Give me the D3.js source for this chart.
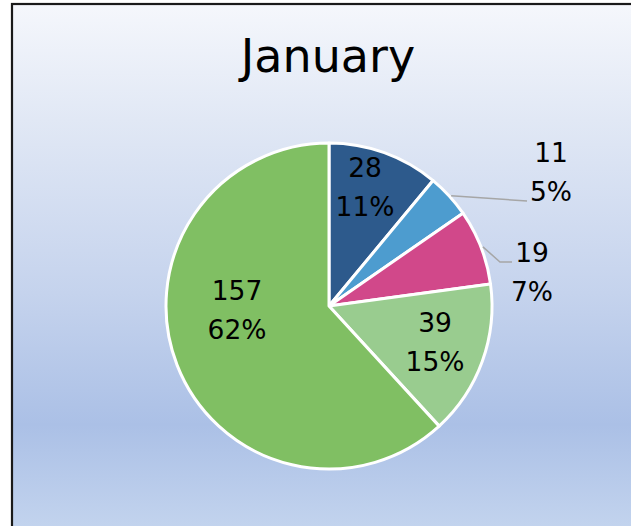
<!DOCTYPE html>
<html><head><meta charset="utf-8">
<script src="https://cdn.jsdelivr.net/npm/d3@7"></script>
<style>html,body{margin:0;padding:0;background:#fff;}svg{display:block;}</style>
</head><body>
<script>
const title = "January";
const categories = ["A", "B", "C", "D", "E"];
const values = [28, 11, 19, 39, 157];
const percentLabels = ["11%", "5%", "7%", "15%", "62%"];
const colors = ["#2d5a8c", "#4d9ccf", "#d1488a", "#99cc8f", "#80bf63"];

const W = 631, H = 526;
const svg = d3.select("body").append("svg").attr("width", W).attr("height", H);
const defs = svg.append("defs");
const grad = defs.append("linearGradient").attr("id", "bg").attr("x1", 0).attr("y1", 0).attr("x2", 0).attr("y2", 1);
[[0, "#f5f7fc"], [0.22, "#e1e8f5"], [0.55, "#c5d3ed"], [0.8, "#abc0e6"], [1, "#c3d4ee"]].forEach(s =>
  grad.append("stop").attr("offset", s[0]).attr("stop-color", s[1]));

svg.append("rect").attr("x", 12).attr("y", 4).attr("width", W).attr("height", H)
  .attr("fill", "url(#bg)").attr("stroke", "#1a1a1a").attr("stroke-width", 2.2);

const font = "'DejaVu Sans', sans-serif";
svg.append("text").attr("x", 328).attr("y", 72).attr("text-anchor", "middle")
  .attr("font-family", font).attr("font-size", 46).attr("fill", "#000").text(title);

const cx = 329, cy = 306, r = 163;
const g = svg.append("g").attr("transform", `translate(${cx},${cy})`);
const pie = d3.pie().value(d => d).sort(null);
const arcs = pie(values);
const arc = d3.arc().innerRadius(0).outerRadius(r);
g.selectAll("path.slice").data(arcs).enter().append("path")
  .attr("d", arc).attr("fill", (d, i) => colors[i])
  .attr("stroke", "#fff").attr("stroke-width", 3).attr("stroke-linejoin", "round");

// label anchor positions (centre x, baseline of first line) relative to pie centre
const labelPos = [[36, -129], [222, -144], [203, -44], [106, 26], [-92, -6]];

arcs.forEach((a, i) => {
  const [x, y] = labelPos[i];
  const t = g.append("text").attr("text-anchor", "middle").attr("font-family", font)
    .attr("font-size", 26.5).attr("fill", "#000");
  t.append("tspan").attr("x", x).attr("y", y).text(values[i]);
  t.append("tspan").attr("x", x).attr("y", y + 38.5).text(percentLabels[i]);
});

// leader lines from slice edge to labels
function edgePoint(a, frac) {
  const ang = a.startAngle + (a.endAngle - a.startAngle) * frac;
  return [Math.sin(ang) * r, -Math.cos(ang) * r];
}
const l1s = edgePoint(arcs[1], 0.5);
g.append("path").attr("fill", "none").attr("stroke", "#a6a6a6").attr("stroke-width", 1.5)
  .attr("d", d3.line()([[l1s[0] + 2, l1s[1]], [198, -105]]));
const l2s = edgePoint(arcs[2], 0.5);
g.append("path").attr("fill", "none").attr("stroke", "#a6a6a6").attr("stroke-width", 1.5)
  .attr("d", d3.line()([[l2s[0] + 2, l2s[1]], [171, -44], [183, -44]]));
</script>
</body></html>
